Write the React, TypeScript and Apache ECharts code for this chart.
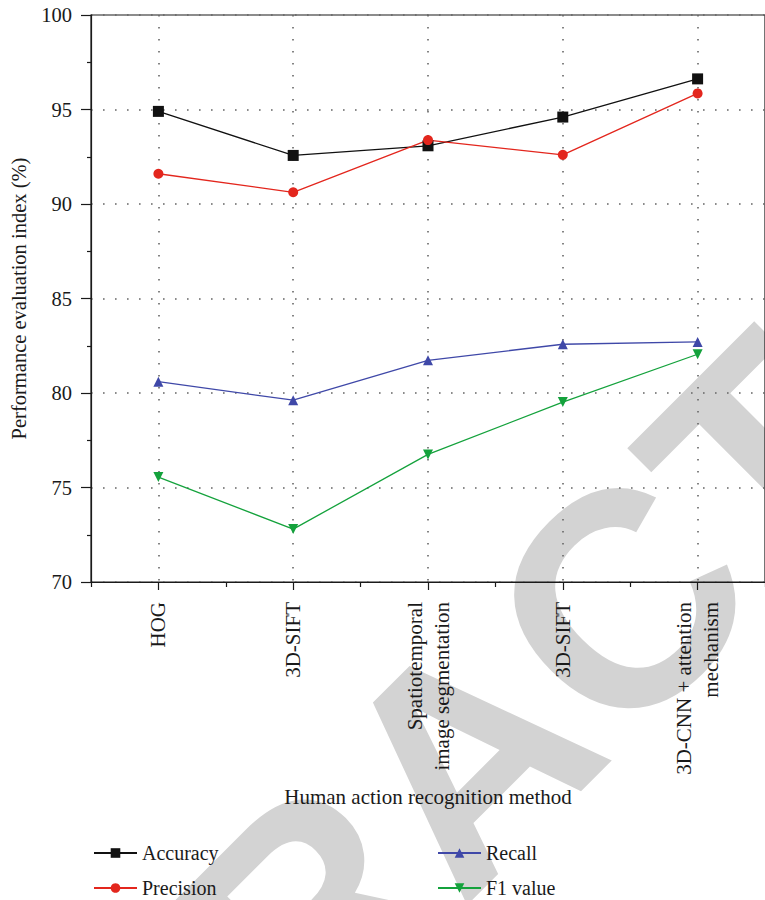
import React, { useEffect, useRef } from "react";
import * as echarts from "echarts";

const categories = [
  "HOG",
  "3D-SIFT",
  "Spatiotemporal\nimage segmentation",
  "3D-SIFT",
  "3D-CNN + attention\nmechanism",
];
const accuracy = [94.9, 92.57, 93.08, 94.6, 96.62];
const precision = [91.6, 90.62, 93.38, 92.6, 95.85];
const recall = [80.6, 79.62, 81.73, 82.58, 82.7];
const f1Value = [75.55, 72.8, 76.75, 79.52, 82.05];
const seriesNames = ["Accuracy", "Precision", "Recall", "F1 value"];

const FONT = "Liberation Serif";

export default function App() {
  const ref = useRef<HTMLDivElement>(null);
  useEffect(() => {
    document.body.style.margin = "0";
    if (!ref.current) return;
    const chart = echarts.init(ref.current, null, { renderer: "svg" });
    const lineSeries = (
      name: string,
      data: number[],
      color: string,
      symbol: string,
      size: number,
      rotate = 0
    ) => ({
      name,
      type: "line",
      data,
      xAxisIndex: 0,
      yAxisIndex: 0,
      symbol,
      symbolSize: size,
      symbolRotate: rotate,
      itemStyle: { color },
      lineStyle: { color, width: 1.3 },
      z: 5,
    });
    const legendBase = {
      orient: "vertical",
      top: 838,
      height: 120,
      itemWidth: 43,
      itemHeight: 12,
      itemGap: 15,
      textStyle: { fontFamily: FONT, fontSize: 20, color: "#1a1a1a" },
    };
    const option: any = {
      animation: false,
      textStyle: { fontFamily: FONT, color: "#1a1a1a" },
      graphic: [
        {
          type: "text",
          x: 465,
          y: 758,
          rotation: Math.PI / 4,
          z: -10,
          silent: true,
          style: {
            text: "RETRACTED",
            fill: "#d3d3d3",
            font: "bold 305px 'Liberation Sans'",
            align: "center",
            verticalAlign: "middle",
          },
        },
      ],
      grid: {
        left: 89,
        top: 15,
        width: 690,
        height: 567,
        show: true,
        borderColor: "#1a1a1a",
        borderWidth: 1.2,
        backgroundColor: "transparent",
      },
      legend: [
        { ...legendBase, data: [seriesNames[0], seriesNames[1]], left: 88 },
        { ...legendBase, data: [seriesNames[2], seriesNames[3]], left: 432 },
      ],
      xAxis: [
        {
          type: "category",
          data: categories,
          boundaryGap: true,
          position: "bottom",
          name: "Human action recognition method",
          nameLocation: "middle",
          nameGap: 204,
          nameTextStyle: { fontFamily: FONT, fontSize: 21, color: "#1a1a1a" },
          axisLine: { show: true, lineStyle: { color: "#1a1a1a", width: 1.2 } },
          axisTick: {
            show: true,
            alignWithLabel: true,
            interval: 0,
            length: 8,
            lineStyle: { color: "#1a1a1a", width: 1.2 },
          },
          axisLabel: {
            interval: 0,
            rotate: 90,
            margin: 20,
            fontFamily: FONT,
            fontSize: 21,
            lineHeight: 27,
            color: "#1a1a1a",
          },
          splitLine: {
            show: true,
            alignWithLabel: true,
            interval: 0,
            lineStyle: { color: "#666", width: 1.6, type: [1.6, 10.4] },
          },
        },
        {
          type: "category",
          data: categories,
          boundaryGap: true,
          position: "bottom",
          axisLine: { show: false },
          axisTick: {
            show: true,
            alignWithLabel: false,
            interval: 0,
            length: 5,
            lineStyle: { color: "#1a1a1a", width: 1.2 },
          },
          axisLabel: { show: false },
          splitLine: { show: false },
        },
      ],
      yAxis: {
        type: "value",
        min: 70,
        max: 100,
        interval: 5,
        name: "Performance evaluation index (%)",
        nameLocation: "middle",
        nameGap: 62,
        nameTextStyle: { fontFamily: FONT, fontSize: 20.5, color: "#1a1a1a" },
        axisLine: { show: true, lineStyle: { color: "#1a1a1a", width: 1.2 } },
        axisTick: { show: true, length: 10, lineStyle: { color: "#1a1a1a", width: 1.2 } },
        minorTick: {
          show: true,
          splitNumber: 2,
          length: 4,
          lineStyle: { color: "#1a1a1a", width: 1.2 },
        },
        axisLabel: {
          margin: 19,
          fontFamily: FONT,
          fontSize: 20.5,
          color: "#1a1a1a",
        },
        splitLine: {
          show: true,
          lineStyle: { color: "#666", width: 1.6, type: [1.6, 10.4] },
        },
      },
      series: [
        lineSeries(seriesNames[0], accuracy, "#111111", "rect", 11),
        lineSeries(seriesNames[1], precision, "#e3261d", "circle", 10),
        lineSeries(seriesNames[2], recall, "#3f48a8", "triangle", 10),
        lineSeries(seriesNames[3], f1Value, "#14a23c", "triangle", 10, 180),
      ],
    };
    chart.setOption(option);
    return () => chart.dispose();
  }, []);
  return <div ref={ref} style={{ width: 765, height: 900 }} />;
}
